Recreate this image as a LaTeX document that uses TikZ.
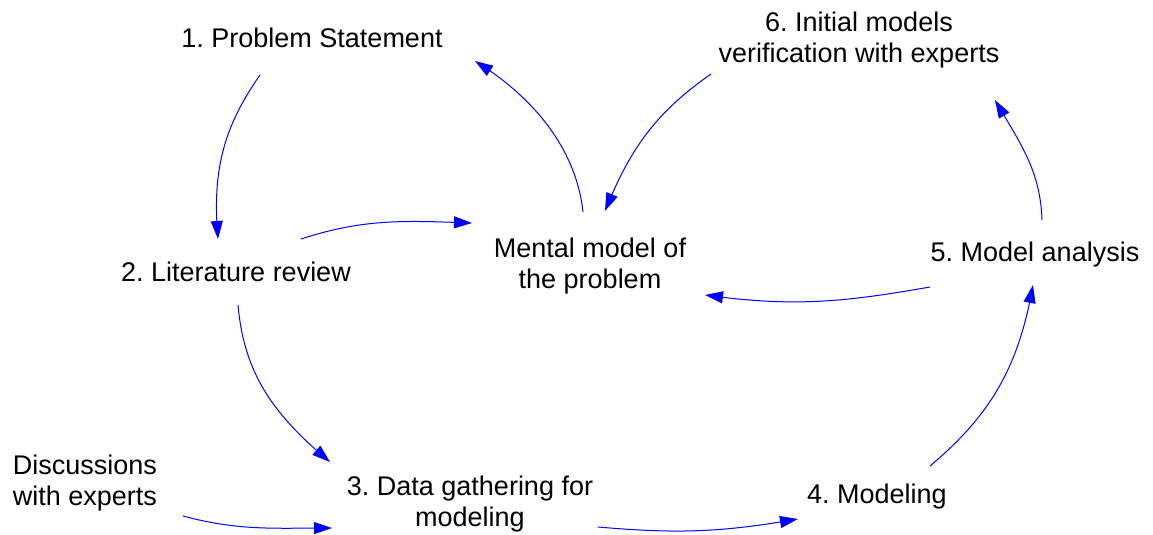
\documentclass[tikz,border=0pt]{standalone}
\usepackage{fontspec}
\setmainfont{Liberation Sans}
\usetikzlibrary{arrows.meta,calc,bending}
\frenchspacing
\begin{document}
\begin{tikzpicture}[x=1pt,y=1pt,
  lbl/.style={inner sep=0pt,align=center,font=\fontsize{27}{31}\selectfont},
  flow/.style={draw=blue,line width=1pt,-{Triangle[length=18pt,width=12pt,flex]}}]
\useasboundingbox (0,0) rectangle (1153,535);
\node[lbl] (ps) at (312,497) {1. Problem Statement};
\node[lbl] (im) at (859,495) {6. Initial models\\verification with experts};
\node[lbl] (mm) at (590,269) {Mental model of\\the problem};
\node[lbl] (lr) at (236,263) {2. Literature review};
\node[lbl] (ma) at (1035,280) {5. Model analysis};
\node[lbl] (de) at (85,52) {Discussions\\with experts};
\node[lbl] (dg) at (470,31) {3. Data gathering for\\modeling};
\node[lbl] (mo) at (877,38) {4. Modeling};
% 1 -> 2
\draw[flow] ($(ps)+(-52,-37)$) to[out=235,in=95] ($(lr)+(-18,33)$);
% 2 -> mental
\draw[flow] ($(lr)+(65,33)$) to[out=18,in=178] ($(mm)+(-118,43)$);
% mental -> 1
\draw[flow] ($(mm)+(-7,54)$) .. controls ($(mm)+(-13,111)$) and ($(mm)+(-50,165)$) .. ($(ps)+(163,-23)$);
% 6 -> mental
\draw[flow] ($(im)+(-148,-34)$) to[out=215,in=68] ($(mm)+(15,55)$);
% 5 -> 6
\draw[flow] ($(ma)+(7,35)$) to[out=92,in=-60] ($(im)+(136,-60)$);
% 5 -> mental
\draw[flow] ($(ma)+(-105,-32)$) to[out=190,in=-8] ($(mm)+(115,-29)$);
% 2 -> 3
\draw[flow] ($(lr)+(2,-33)$) to[out=-85,in=140] ($(dg)+(-140,42)$);
% discussions -> 3
\draw[flow] ($(de)+(98,-33)$) to[out=-15,in=180] ($(dg)+(-138,-24)$);
% 3 -> 4
\draw[flow] ($(dg)+(128,-23)$) to[out=-5,in=190] ($(mo)+(-79,-22)$);
% 4 -> 5
\draw[flow] ($(mo)+(53,31)$) to[out=40,in=-100] ($(ma)+(-2,-30)$);
\end{tikzpicture}
\end{document}
